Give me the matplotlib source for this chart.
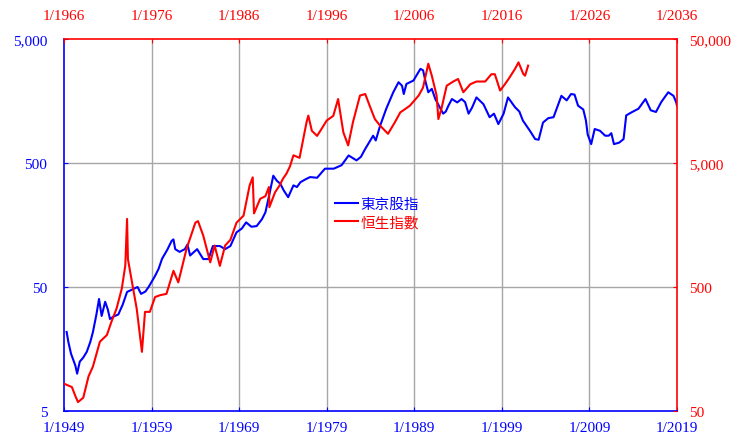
import numpy as np
import matplotlib.pyplot as plt
from matplotlib.ticker import FixedLocator, NullLocator

plt.rcParams['font.family'] = ['Liberation Serif', 'Noto Sans CJK TC']

# TOPIX (bottom / left axes), decimal year and index level
tokyo_year = [1949.3, 1949.5, 1949.8, 1950.3, 1950.5, 1950.8, 1951.2, 1951.6, 1952.0, 1952.3,
              1952.7, 1953.0, 1953.3, 1953.7, 1954.0, 1954.25, 1954.7, 1955.2, 1955.7, 1956.2,
              1957.0, 1957.4, 1957.8, 1958.3, 1958.7, 1959.4, 1959.8, 1960.2, 1960.8, 1961.3,
              1961.5, 1961.7, 1962.2, 1962.8, 1963.1, 1963.4, 1964.2, 1964.9, 1965.5, 1966.0,
              1966.8, 1967.4, 1968.0, 1968.7, 1969.3, 1969.8, 1970.4, 1971.0, 1971.6, 1972.0,
              1972.5, 1972.9, 1973.3, 1973.7, 1974.1, 1974.6, 1975.2, 1975.6, 1976.0, 1976.6,
              1977.1, 1977.9, 1978.8, 1979.8, 1980.7, 1981.5, 1982.4, 1982.9, 1983.4, 1984.3,
              1984.6, 1985.1, 1985.8, 1986.6, 1987.2, 1987.6, 1987.8, 1988.1, 1988.9, 1989.7,
              1990.0, 1990.3, 1990.6, 1991.0, 1991.4, 1991.9, 1992.3, 1992.6, 1992.9, 1993.3,
              1993.9, 1994.4, 1994.8, 1995.2, 1995.6, 1996.1, 1996.9, 1997.6, 1998.1, 1998.6,
              1999.2, 1999.7, 2000.5, 2001.0, 2001.4, 2002.2, 2002.8, 2003.2, 2003.7, 2004.3,
              2004.9, 2005.8, 2006.4, 2006.9, 2007.3, 2007.7, 2008.3, 2008.6, 2008.8, 2009.2,
              2009.6, 2010.2, 2010.8, 2011.2, 2011.5, 2011.8, 2012.4, 2012.9, 2013.2, 2013.8,
              2014.6, 2015.4, 2016.0, 2016.6, 2017.2, 2018.0, 2018.6, 2018.9, 2019.0]
tokyo_value = [21.7, 18, 14.5, 11.6, 10, 12.5, 13.5, 15, 18, 21.6,
               30, 40, 29.2, 38, 33, 27.6, 29, 30, 36, 45.6,
               48.5, 50, 44, 46, 50.5, 61.5, 70, 84.5, 100, 118,
               121, 101, 96, 101, 110, 89.7, 101, 84, 84, 107,
               107, 101, 107, 138, 148, 166, 153, 155, 176, 200,
               290, 395, 360, 340, 300, 265, 330, 320, 350, 370,
               385, 380, 450, 450, 480, 575, 525, 560, 650, 830,
               760, 1000, 1370, 1860, 2240, 2100, 1800, 2170, 2310, 2870,
               2800, 2240, 1860, 1980, 1640, 1410, 1250, 1300, 1450, 1640,
               1540, 1640, 1550, 1250, 1400, 1690, 1490, 1170, 1250, 1030,
               1250, 1690, 1410, 1300, 1100, 910, 780, 770, 1060, 1150,
               1170, 1740, 1600, 1800, 1780, 1450, 1350, 1100, 850, 710,
               940, 910, 830, 830, 870, 710, 730, 780, 1210, 1280,
               1370, 1640, 1330, 1290, 1550, 1860, 1740, 1550, 1450]

# Hang Seng (top / right axes)
hsi_year = [1966.0, 1966.9, 1967.3, 1967.6, 1968.2, 1968.8, 1969.3, 1970.1, 1970.9, 1971.4,
            1972.0, 1972.6, 1973.0, 1973.2, 1973.3, 1973.7, 1974.3, 1974.9, 1975.25, 1975.8,
            1976.4, 1977.0, 1977.7, 1978.5, 1979.05, 1980.0, 1981.0, 1981.3, 1981.9, 1982.7,
            1983.2, 1983.8, 1984.4, 1985.0, 1985.7, 1986.5, 1987.2, 1987.55, 1987.7, 1988.4,
            1989.0, 1989.4, 1989.45, 1990.1, 1990.6, 1991.0, 1991.4, 1991.8, 1992.2, 1992.9,
            1993.7, 1993.9, 1994.3, 1994.9, 1995.4, 1996.0, 1996.75, 1997.3, 1997.9, 1998.45,
            1999.0, 1999.8, 2000.4, 2000.9, 2001.5, 2002.1, 2003.0, 2003.8, 2004.4, 2004.75,
            2005.5, 2006.5, 2007.0, 2007.6, 2008.0, 2008.55, 2008.75, 2009.1, 2009.7, 2010.45,
            2011.0, 2011.6, 2012.4, 2013.1, 2014.1, 2014.8, 2015.2, 2015.8, 2016.35, 2016.9,
            2017.5, 2017.9, 2018.45, 2018.65, 2019.0]
hsi_value = [83, 78, 66, 59, 64, 95, 114, 181, 205, 260,
             335, 485, 745, 1770, 840, 580, 335, 150, 315, 315,
             415, 430, 440, 675, 545, 1020, 1650, 1700, 1300, 790,
             1080, 740, 1080, 1200, 1650, 1880, 3300, 3830, 1960, 2570,
             2700, 3200, 2200, 2900, 3280, 3730, 4100, 4690, 5770, 5500,
             10700, 12060, 9100, 8270, 9400, 11000, 12000, 16400, 8830, 6930,
             10700, 17500, 18000, 14500, 11300, 10000, 8600, 10700, 12800, 13300,
             14500, 17500, 20300, 31600, 25300, 17500, 11300, 13700, 21000, 22700,
             23800, 18600, 21600, 22700, 22700, 26000, 26000, 19200, 21600, 24600,
             28700, 32400, 26100, 25300, 30500]

bottom_years = [1949, 1959, 1969, 1979, 1989, 1999, 2009, 2019]
top_years = [1966, 1976, 1986, 1996, 2006, 2016, 2026, 2036]
left_ticks = [5, 50, 500, 5000]
right_ticks = [50, 500, 5000, 50000]

blue = '#0000ff'
red = '#ff0000'
grid_c = '#a6a6a6'

fig = plt.figure(figsize=(7.34, 4.39), dpi=100)
pos = [64 / 734, 1 - 412 / 439, 613 / 734, 372 / 439]
ax = fig.add_axes(pos)
ax2 = fig.add_axes(pos, frameon=False)

ax.set_xlim(1949, 2019)
ax.set_yscale('log')
ax.set_ylim(5, 5000)
ax.xaxis.set_major_locator(FixedLocator(bottom_years))
ax.set_xticklabels(['1/%d' % y for y in bottom_years])
ax.yaxis.set_major_locator(FixedLocator(left_ticks))
ax.yaxis.set_minor_locator(NullLocator())
ax.set_yticklabels(['{:,}'.format(v) for v in left_ticks])
for x in bottom_years[1:-1]:
    ax.axvline(x, color=grid_c, lw=1, zorder=0)
for v in [50, 500]:
    ax.axhline(v, color=grid_c, lw=1, zorder=0)

ax.tick_params(axis='both', colors=blue, labelsize=11, direction='in', length=3)
ax.tick_params(axis='x', pad=7)
ax.tick_params(axis='y', pad=12)
ax.spines['left'].set_color(blue)
ax.spines['bottom'].set_color(blue)
ax.spines['top'].set_color(red)
ax.spines['right'].set_color(red)
for s in ax.spines.values():
    s.set_linewidth(1.2)

ax2.set_xlim(1966, 2036)
ax2.set_yscale('log')
ax2.set_ylim(50, 50000)
ax2.xaxis.tick_top()
ax2.yaxis.tick_right()
ax2.xaxis.set_major_locator(FixedLocator(top_years))
ax2.set_xticklabels(['1/%d' % y for y in top_years])
ax2.yaxis.set_major_locator(FixedLocator(right_ticks))
ax2.yaxis.set_minor_locator(NullLocator())
ax2.set_yticklabels(['{:,}'.format(v) for v in right_ticks])
ax2.tick_params(axis='both', colors=red, labelsize=11, direction='in', length=3)
ax2.tick_params(axis='x', pad=12)
ax2.tick_params(axis='y', pad=9)

l1, = ax.plot(tokyo_year, tokyo_value, color=blue, lw=1.5, label='東京股指')
l2, = ax2.plot(hsi_year, hsi_value, color=red, lw=1.5, label='恒生指數')

leg = ax2.legend(handles=[l1, l2], loc='upper left', bbox_to_anchor=(0.42, 0.61),
                 frameon=False, handlelength=1.6, handletextpad=0.2, labelspacing=0.3,
                 prop={'family': ['Noto Sans CJK TC'], 'size': 10.5})
for t, c in zip(leg.get_texts(), [blue, red]):
    t.set_color(c)

fig.savefig('out.png', dpi=100)
